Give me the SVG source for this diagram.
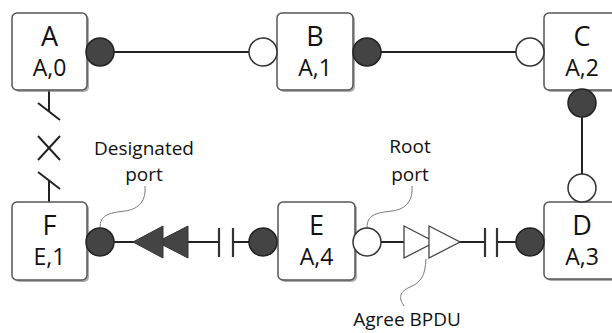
<svg xmlns="http://www.w3.org/2000/svg" width="612" height="333" viewBox="0 0 612 333">
<defs>
<style>
.box{fill:#fff;stroke:#555;stroke-width:1.5}
.sh{fill:#777;opacity:0.6}
.nm{font-family:"Open Sans","Noto Sans",sans-serif;font-size:27px;fill:#111;text-anchor:middle}
.sub{font-family:"Open Sans","Noto Sans",sans-serif;font-size:23px;fill:#111;text-anchor:middle}
.lbl{font-family:"Open Sans","Noto Sans",sans-serif;font-size:19px;fill:#111;text-anchor:middle}
.ln{stroke:#222;stroke-width:2;fill:none}
.dp{fill:#444;stroke:#222;stroke-width:1.5}
.rp{fill:#fff;stroke:#333;stroke-width:1.5}
.lead{stroke:#777;stroke-width:1;fill:none}
.fa{fill:#444;stroke:#333;stroke-width:1}
.oa{fill:#fff;stroke:#444;stroke-width:1.3}
.tk{stroke:#333;stroke-width:2.2;fill:none}
</style>
</defs>
<g id="connectors">
<line class="ln" x1="114" y1="52" x2="249" y2="52"/>
<line class="ln" x1="381" y1="52" x2="516" y2="52"/>
<line class="ln" x1="582" y1="117" x2="582" y2="174"/>
<line class="ln" x1="49" y1="90" x2="49" y2="111"/>
<line class="ln" x1="38" y1="103" x2="60" y2="120"/>
<line class="ln" x1="38" y1="136" x2="60" y2="160"/>
<line class="ln" x1="60" y1="136" x2="38" y2="160"/>
<line class="ln" x1="38" y1="172" x2="60" y2="189"/>
<line class="ln" x1="49" y1="180" x2="49" y2="202"/>
<line class="ln" x1="114" y1="242" x2="219" y2="242"/>
<line class="tk" x1="219" y1="228" x2="219" y2="257"/>
<line class="tk" x1="233" y1="228" x2="233" y2="257"/>
<line class="ln" x1="233" y1="242" x2="249" y2="242"/>
<polygon class="fa" points="157,242 188,226 188,258"/>
<polygon class="fa" points="133,242 163,226 163,258"/>
<line class="ln" x1="381" y1="242" x2="485" y2="242"/>
<polygon class="oa" points="404,226 435,242 404,258"/>
<polygon class="oa" points="429,226 460,242 429,258"/>
<line class="tk" x1="485" y1="228" x2="485" y2="257"/>
<line class="tk" x1="497" y1="228" x2="497" y2="257"/>
<line class="ln" x1="497" y1="242" x2="516" y2="242"/>
<path class="lead" d="M145,186 C146,200 140,209 125,211 C108,213 100,215 100,228"/>
<path class="lead" d="M412,186 C413,200 407,209 392,211 C375,213 367,215 367,228"/>
<path class="lead" d="M426,259 C425,275 422,282 410,287 C397,293 400,300 404,306"/>
</g>
<g id="A">
<rect class="sh" x="14" y="15" width="75" height="77" rx="5"/>
<rect class="box" x="12" y="13" width="75" height="77" rx="5"/>
<text class="nm" x="49.5" y="46">A</text>
<text class="sub" x="49.5" y="76">A,0</text>
<circle class="dp" cx="100" cy="52" r="14"/>
</g>
<g id="B">
<rect class="sh" x="279" y="15" width="76" height="77" rx="5"/>
<rect class="box" x="277" y="13" width="76" height="77" rx="5"/>
<text class="nm" x="315" y="46">B</text>
<text class="sub" x="315" y="76">A,1</text>
<circle class="rp" cx="263" cy="52" r="14"/>
<circle class="dp" cx="367" cy="52" r="14"/>
</g>
<g id="C">
<rect class="sh" x="546" y="15" width="76" height="77" rx="5"/>
<rect class="box" x="544" y="13" width="76" height="77" rx="5"/>
<text class="nm" x="582" y="46">C</text>
<text class="sub" x="582" y="76">A,2</text>
<circle class="rp" cx="530" cy="52" r="14"/>
<circle class="dp" cx="582" cy="103" r="14"/>
</g>
<g id="D">
<rect class="sh" x="546" y="204" width="76" height="77" rx="5"/>
<rect class="box" x="544" y="202" width="76" height="77" rx="5"/>
<text class="nm" x="582" y="235">D</text>
<text class="sub" x="582" y="265">A,3</text>
<circle class="rp" cx="582" cy="188" r="14"/>
<circle class="dp" cx="530" cy="242" r="14"/>
</g>
<g id="E">
<rect class="sh" x="280" y="204" width="77" height="78" rx="5"/>
<rect class="box" x="278" y="202" width="77" height="78" rx="5"/>
<text class="nm" x="316.5" y="235">E</text>
<text class="sub" x="316.5" y="265">A,4</text>
<circle class="dp" cx="263" cy="242" r="14"/>
<circle class="rp" cx="367" cy="242" r="14"/>
</g>
<g id="F">
<rect class="sh" x="14" y="204" width="75" height="78" rx="5"/>
<rect class="box" x="12" y="202" width="75" height="78" rx="5"/>
<text class="nm" x="49.5" y="235">F</text>
<text class="sub" x="49.5" y="265">E,1</text>
<circle class="dp" cx="100" cy="242" r="14"/>
</g>
<g id="labels">
<text class="lbl" x="144" y="155">Designated</text>
<text class="lbl" x="144" y="181">port</text>
<text class="lbl" x="410" y="153">Root</text>
<text class="lbl" x="410" y="181">port</text>
<text class="lbl" x="407" y="326">Agree BPDU</text>
</g>
</svg>
